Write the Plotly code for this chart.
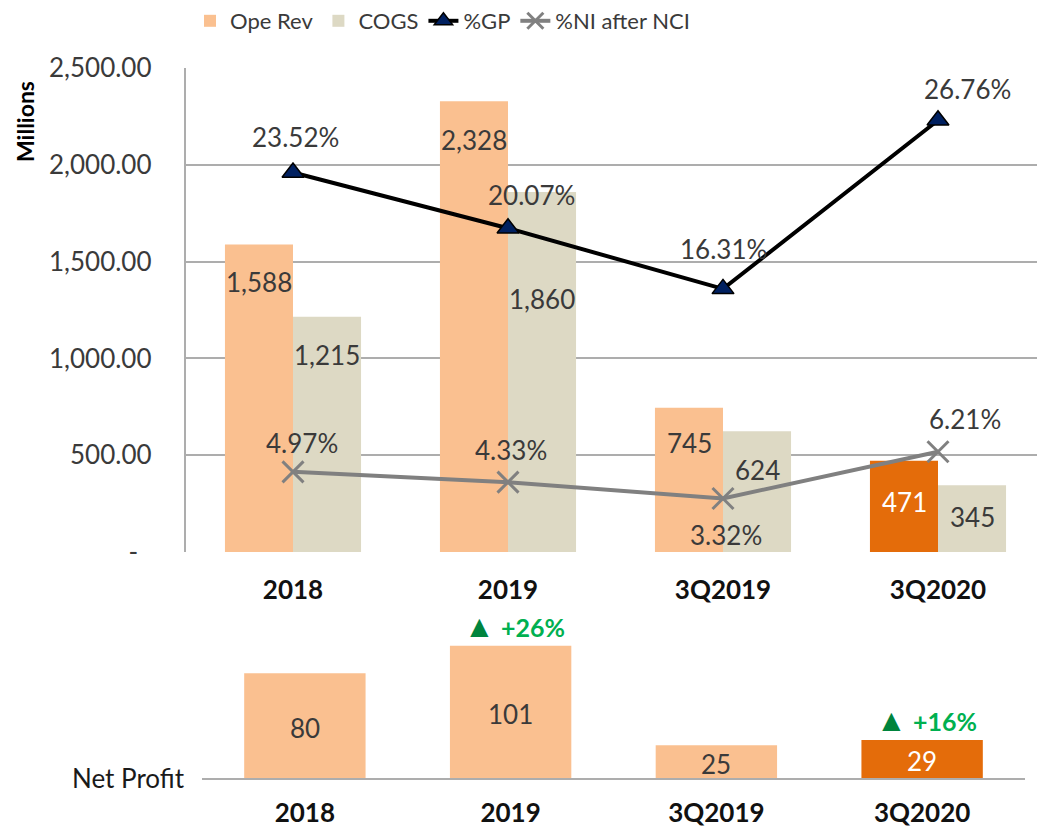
import plotly.graph_objects as go

# ---------------- data ----------------
categories = ["2018", "2019", "3Q2019", "3Q2020"]
ope_rev = [1588, 2328, 745, 471]
cogs = [1215, 1860, 624, 345]
gp_pct = [23.52, 20.07, 16.31, 26.76]
ni_pct = [4.97, 4.33, 3.32, 6.21]
net_profit = [80, 101, 25, 29]
np_growth_cats = ["2019", "3Q2020"]
np_growth_text = ["+26%", "+16%"]
y_tickvals = [0, 500, 1000, 1500, 2000, 2500]
y_ticktext = ["-\u00a0\u00a0", "500.00", "1,000.00", "1,500.00", "2,000.00", "2,500.00"]

# ---------------- style ----------------
W, H = 1037, 828
FONT = "Lato, 'Liberation Sans', Arial, sans-serif"
LIGHT_ORANGE = "#FAC090"
DARK_ORANGE = "#E46C0A"
BEIGE = "#DDD9C4"
GRID = "#ADADAD"
TXT = "#3A3A3A"
highlight = "3Q2020"
FS = 26


def px_x(p):
    return p / W


def px_y(p):
    return 1 - p / H


fig = go.Figure()

fig.add_trace(go.Bar(
    name="Ope Rev", x=categories, y=ope_rev,
    marker=dict(color=[DARK_ORANGE if c == highlight else LIGHT_ORANGE for c in categories], line=dict(width=0)),
    xaxis="x", yaxis="y", hoverinfo="skip"))
fig.add_trace(go.Bar(
    name="COGS", x=categories, y=cogs,
    marker=dict(color=BEIGE, line=dict(width=0)),
    xaxis="x", yaxis="y", hoverinfo="skip"))
fig.add_trace(go.Scatter(
    name="%GP", x=categories, y=gp_pct, mode="lines+markers",
    line=dict(color="black", width=4),
    marker=dict(symbol="triangle-up", size=19, color="#002060", line=dict(color="black", width=1.5)),
    xaxis="x", yaxis="y2", hoverinfo="skip"))
fig.add_trace(go.Scatter(
    name="%NI after NCI", x=categories, y=ni_pct, mode="lines+markers",
    line=dict(color="#808080", width=4),
    marker=dict(symbol="x-thin", size=21, color="#808080", line=dict(color="#808080", width=3)),
    xaxis="x", yaxis="y2", hoverinfo="skip"))
fig.add_trace(go.Bar(
    name="Net Profit", x=categories, y=net_profit, showlegend=False,
    marker=dict(color=[DARK_ORANGE if c == highlight else LIGHT_ORANGE for c in categories], line=dict(width=0)),
    width=0.59, offset=-0.295,
    xaxis="x2", yaxis="y3", hoverinfo="skip"))

annotations = []
lab_font = dict(family=FONT, size=FS, color=TXT)

# bar value labels (top chart) -- x given as category index
ope_yshift = [-37, -39, -35, -41]
cogs_yshift = [-38, -107, -39, -32]
for i, c in enumerate(categories):
    annotations.append(dict(
        x=i, y=ope_rev[i], xref="x", yref="y", text=f"{ope_rev[i]:,}", showarrow=False,
        xshift=-34, yshift=ope_yshift[i], yanchor="middle",
        font=dict(family=FONT, size=FS, color="white" if c == highlight else TXT)))
    annotations.append(dict(
        x=i, y=cogs[i], xref="x", yref="y", text=f"{cogs[i]:,}", showarrow=False,
        xshift=34, yshift=cogs_yshift[i], yanchor="middle", font=lab_font))

# percentage labels
gp_shift = [(2, 36), (23, 33), (0, 40), (29, 31)]
ni_shift = [(9, 29), (3, 32), (3, -37), (27, 33)]
for i, c in enumerate(categories):
    annotations.append(dict(
        x=i, y=gp_pct[i], xref="x", yref="y2", text=f"{gp_pct[i]:.2f}%", showarrow=False,
        xshift=gp_shift[i][0], yshift=gp_shift[i][1], yanchor="middle", font=lab_font))
    annotations.append(dict(
        x=i, y=ni_pct[i], xref="x", yref="y2", text=f"{ni_pct[i]:.2f}%", showarrow=False,
        xshift=ni_shift[i][0], yshift=ni_shift[i][1], yanchor="middle", font=lab_font))

# net profit labels
for i, c in enumerate(categories):
    annotations.append(dict(
        x=i, y=net_profit[i] / 2, xref="x2", yref="y3", text=str(net_profit[i]), showarrow=False,
        yanchor="middle", yshift=-2,
        font=dict(family=FONT, size=FS, color="white" if c == highlight else TXT)))

# growth markers
for c, t in zip(np_growth_cats, np_growth_text):
    i = categories.index(c)
    annotations.append(dict(
        x=i, y=net_profit[i], xref="x2", yref="y3", showarrow=False, yanchor="middle", xshift=4, yshift=21,
        text=f"<span style='color:#00843D;font-size:31px'>▲</span> <b>{t}</b>",
        font=dict(family=FONT, size=25, color="#00B050")))

annotations.append(dict(
    x=px_x(187), y=px_y(778), xref="paper", yref="paper", xanchor="right", yanchor="middle",
    text="Net Profit", showarrow=False, font=dict(family=FONT, size=FS, color="#1a1a1a")))
annotations.append(dict(
    x=px_x(25), y=px_y(122), xref="paper", yref="paper", xanchor="center", yanchor="middle",
    text="<b>Millions</b>", textangle=-90, showarrow=False, font=dict(family=FONT, size=23, color="black")))

fig.update_layout(
    template="none",
    width=W, height=H,
    margin=dict(l=0, r=0, t=0, b=0, autoexpand=False),
    paper_bgcolor="white", plot_bgcolor="white",
    font=dict(family=FONT, size=FS, color=TXT),
    barmode="group", bargap=0.367, bargroupgap=0,
    showlegend=True,
    legend=dict(orientation="h", x=px_x(190), y=1, xanchor="left", yanchor="top",
                font=dict(family=FONT, size=22, color=TXT), bgcolor="rgba(0,0,0,0)",
                traceorder="normal", itemwidth=30),
    xaxis=dict(domain=[px_x(185.5), 1], anchor="y", type="category", automargin=False,
               range=[-0.5, 3.5 - 8.5 / 215], showline=False, showgrid=False, ticks="", zeroline=False,
               tickfont=dict(family=FONT, size=FS, color="#111111", weight="bold"),
               ticklabelstandoff=20, fixedrange=True),
    yaxis=dict(domain=[px_y(552), px_y(68)], range=[0, 2500], tickvals=y_tickvals, ticktext=y_ticktext,
               automargin=False,
               showgrid=True, gridcolor=GRID, gridwidth=1.5, zeroline=False,
               showline=True, linecolor=GRID, linewidth=1.5, ticks="",
               tickfont=dict(family=FONT, size=FS, color=TXT), ticklabelstandoff=27, fixedrange=True),
    yaxis2=dict(overlaying="y", range=[0, 30], visible=False, fixedrange=True, automargin=False),
    xaxis2=dict(domain=[px_x(202), px_x(1025)], anchor="y3", type="category", range=[-0.5, 3.5],
                automargin=False, zeroline=False,
                showline=True, linecolor=GRID, linewidth=1.5, showgrid=False, ticks="",
                tickfont=dict(family=FONT, size=FS, color="#111111", weight="bold"),
                ticklabelstandoff=11, fixedrange=True),
    yaxis3=dict(domain=[px_y(778), px_y(640)], range=[0, 138 / 1.31], visible=False, fixedrange=True,
                automargin=False),
    annotations=annotations,
)

fig.write_html(
    "out.html",
    config={"displayModeBar": False},
    post_script="document.body.style.margin='0';document.body.style.overflow='hidden';",
)
